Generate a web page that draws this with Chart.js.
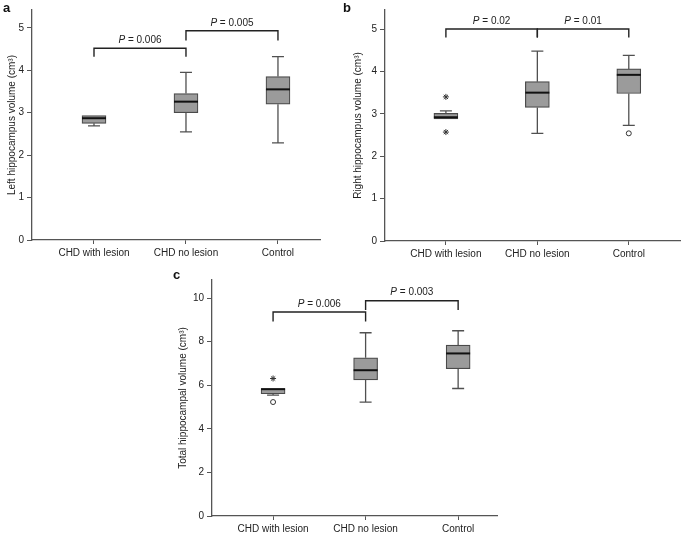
<!DOCTYPE html>
<html>
<head>
<meta charset="utf-8">
<title>Hippocampus volume</title>
<style>
body { margin:0; background:#fff; width:685px; height:533px; position:relative; overflow:hidden; font-family:"Liberation Sans", Arial, sans-serif; }
canvas { position:absolute; }
.lbl { position:absolute; font-weight:bold; font-size:13px; color:#111; line-height:13px; }
</style>
</head>
<body>
<script src="https://cdn.jsdelivr.net/npm/chart.js@4/dist/chart.umd.min.js"></script>

<canvas id="panelA" width="340" height="262" style="left:0;top:0"></canvas>
<canvas id="panelB" width="345" height="262" style="left:340px;top:0"></canvas>
<canvas id="panelC" width="340" height="272" style="left:170px;top:262px"></canvas>
<div class="lbl" style="left:3px;top:1px">a</div>
<div class="lbl" style="left:343px;top:1px">b</div>
<div class="lbl" style="left:173px;top:268px">c</div>

<script>
var categories = ['CHD with lesion', 'CHD no lesion', 'Control'];

// a - left hippocampus
var leftMin = [2.69, 2.55, 2.29];
var leftQ1  = [2.75, 3.00, 3.20];
var leftMed = [2.87, 3.26, 3.55];
var leftQ3  = [2.93, 3.45, 3.85];
var leftMax = [2.93, 3.95, 4.32];
var leftStars = [];
var leftCircles = [];
var leftTicks = [0, 1, 2, 3, 4, 5];
var leftPairs = [[1, 2], [2, 3]];
var leftBracketTop = [4.52, 4.93];
var leftBracketFoot = [4.32, 4.70];
var leftP = ['0.006', '0.005'];

// b - right hippocampus
var rightMin = [2.88, 2.54, 2.73];
var rightQ1  = [2.88, 3.15, 3.48];
var rightMed = [2.92, 3.50, 3.92];
var rightQ3  = [3.01, 3.76, 4.06];
var rightMax = [3.07, 4.48, 4.38];
var rightStars = [{x: 1, y: 3.40}, {x: 1, y: 2.57}];
var rightCircles = [{x: 3, y: 2.54}];
var rightTicks = [0, 1, 2, 3, 4, 5];
var rightPairs = [[1, 2], [2, 3]];
var rightBracketTop = [5.0, 5.0];
var rightBracketFoot = [4.80, 4.80];
var rightP = ['0.02', '0.01'];

// c - total hippocampal
var totalMin = [5.55, 5.23, 5.85];
var totalQ1  = [5.61, 6.25, 6.76];
var totalMed = [5.82, 6.69, 7.46];
var totalQ3  = [5.85, 7.26, 7.84];
var totalMax = [5.85, 8.41, 8.50];
var totalStars = [{x: 1, y: 6.31}];
var totalCircles = [{x: 1, y: 5.23}];
var totalTicks = [0, 2, 4, 6, 8, 10];
var totalPairs = [[1, 2], [2, 3]];
var totalBracketTop = [9.36, 9.88];
var totalBracketFoot = [8.92, 9.45];
var totalP = ['0.006', '0.003'];

var fontFam = '"Liberation Sans", Arial, sans-serif';

function makePanel(id, d, lay) {
  var boxes = categories.map(function (c, i) { return {x: i + 1, y: [d.q1[i], d.q3[i]]}; });
  var datasets = [{
    type: 'bar', data: boxes, backgroundColor: '#9b9b9b', borderColor: '#4a4a4a',
    borderWidth: 1.2, borderSkipped: false, barThickness: 24
  }];
  d.pairs.forEach(function (p, k) {
    datasets.push({
      type: 'line', fill: false, tension: 0, pointRadius: 0, borderColor: '#222', borderWidth: 1.4,
      data: [{x: p[0], y: d.foot[k]}, {x: p[0], y: d.top[k]}, {x: p[1], y: d.top[k]}, {x: p[1], y: d.foot[k]}]
    });
  });
  if (d.stars.length) datasets.push({type: 'scatter', data: d.stars, pointStyle: 'star', radius: 3, borderColor: '#333', borderWidth: 1});
  if (d.circles.length) datasets.push({type: 'scatter', data: d.circles, pointStyle: 'circle', radius: 2.5, borderColor: '#333', backgroundColor: '#fff', borderWidth: 1});

  var boxExtras = {
    id: 'boxExtras',
    afterDatasetsDraw: function (chart) {
      var xs = chart.scales.x, ys = chart.scales.y, ctx = chart.ctx;
      ctx.save();
      for (var i = 0; i < categories.length; i++) {
        var cx = xs.getPixelForValue(i + 1);
        ctx.strokeStyle = '#505050';
        ctx.lineWidth = 1.3;
        ctx.beginPath();
        if (d.max[i] > d.q3[i]) {
          ctx.moveTo(cx, ys.getPixelForValue(d.q3[i]));
          ctx.lineTo(cx, ys.getPixelForValue(d.max[i]));
          ctx.moveTo(cx - 6, ys.getPixelForValue(d.max[i]));
          ctx.lineTo(cx + 6, ys.getPixelForValue(d.max[i]));
        }
        if (d.min[i] < d.q1[i]) {
          ctx.moveTo(cx, ys.getPixelForValue(d.q1[i]));
          ctx.lineTo(cx, ys.getPixelForValue(d.min[i]));
          ctx.moveTo(cx - 6, ys.getPixelForValue(d.min[i]));
          ctx.lineTo(cx + 6, ys.getPixelForValue(d.min[i]));
        }
        ctx.stroke();
        // median
        ctx.strokeStyle = '#111';
        ctx.lineWidth = 2;
        ctx.beginPath();
        var my = ys.getPixelForValue(d.med[i]);
        ctx.moveTo(cx - 12, my);
        ctx.lineTo(cx + 12, my);
        ctx.stroke();
      }
      // p values over the brackets
      ctx.fillStyle = '#222';
      ctx.textBaseline = 'bottom';
      d.pairs.forEach(function (p, k) {
        var mx = (xs.getPixelForValue(p[0]) + xs.getPixelForValue(p[1])) / 2;
        var ty = ys.getPixelForValue(d.top[k]) - 3;
        var rest = ' = ' + d.p[k];
        ctx.font = 'italic 10px ' + fontFam;
        var w1 = ctx.measureText('P').width;
        ctx.font = '10px ' + fontFam;
        var w2 = ctx.measureText(rest).width;
        var sx = mx - (w1 + w2) / 2;
        ctx.font = 'italic 10px ' + fontFam;
        ctx.fillText('P', sx, ty);
        ctx.font = '10px ' + fontFam;
        ctx.fillText(rest, sx + w1, ty);
      });
      ctx.restore();
    }
  };

  return new Chart(document.getElementById(id), {
    type: 'bar',
    data: {datasets: datasets},
    plugins: [boxExtras],
    options: {
      responsive: false,
      animation: false,
      devicePixelRatio: 1,
      layout: {padding: {top: lay.top, right: lay.right, left: 0, bottom: 0}},
      plugins: {legend: {display: false}, tooltip: {enabled: false}},
      scales: {
        x: {
          type: 'linear', offset: false, min: lay.xmin, max: lay.xmax,
          afterBuildTicks: function (s) { s.ticks = categories.map(function (c, i) { return {value: i + 1}; }); },
          afterFit: function (s) { s.height = lay.xh; },
          grid: {drawOnChartArea: false, offset: false, tickLength: 4, color: '#555'},
          border: {color: '#555', width: 1.3},
          ticks: {
            autoSkip: false, maxRotation: 0, padding: 3, color: '#222',
            font: {family: fontFam, size: 10},
            callback: function (v) { return categories[v - 1]; }
          }
        },
        y: {
          min: 0, max: lay.ymax,
          afterBuildTicks: function (s) { s.ticks = d.ticks.map(function (t) { return {value: t}; }); },
          afterFit: function (s) { s.width = lay.yw; },
          grid: {drawOnChartArea: false, tickLength: 5, color: '#555'},
          border: {color: '#555', width: 1.3},
          ticks: {padding: 3, color: '#222', font: {family: fontFam, size: 10}},
          title: {
            display: true, text: d.title, color: '#222',
            font: {family: fontFam, size: 10}, padding: {top: lay.tpad, bottom: 0}
          }
        }
      }
    }
  });
}

makePanel('panelA', {
  min: leftMin, q1: leftQ1, med: leftMed, q3: leftQ3, max: leftMax,
  stars: leftStars, circles: leftCircles, ticks: leftTicks,
  pairs: leftPairs, top: leftBracketTop, foot: leftBracketFoot, p: leftP,
  title: 'Left hippocampus volume (cm\u00b3)'
}, {top: 10, right: 20, xh: 22, yw: 32, tpad: 6, xmin: 0.326, xmax: 3.457, ymax: 5.42});

makePanel('panelB', {
  min: rightMin, q1: rightQ1, med: rightMed, q3: rightQ3, max: rightMax,
  stars: rightStars, circles: rightCircles, ticks: rightTicks,
  pairs: rightPairs, top: rightBracketTop, foot: rightBracketFoot, p: rightP,
  title: 'Right hippocampus volume (cm\u00b3)'
}, {top: 10, right: 2, xh: 21, yw: 45, tpad: 12, xmin: 0.334, xmax: 3.56, ymax: 5.45});

makePanel('panelC', {
  min: totalMin, q1: totalQ1, med: totalMed, q3: totalQ3, max: totalMax,
  stars: totalStars, circles: totalCircles, ticks: totalTicks,
  pairs: totalPairs, top: totalBracketTop, foot: totalBracketFoot, p: totalP,
  title: 'Total hippocampal volume (cm\u00b3)'
}, {top: 18, right: 13, xh: 18, yw: 42, tpad: 7, xmin: 0.34, xmax: 3.42, ymax: 10.83});
</script>
</body>
</html>
